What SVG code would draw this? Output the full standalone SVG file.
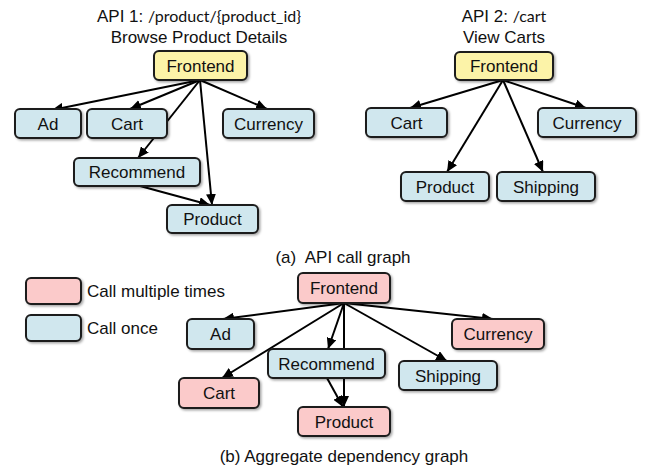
<svg xmlns="http://www.w3.org/2000/svg" width="648" height="467" viewBox="0 0 648 467">
<style>
text{font-family:"Liberation Sans",Arial,sans-serif;font-size:17px;fill:#111;}
.c{text-anchor:middle;}
.code{font-family:Lato,"Open Sans",sans-serif;font-size:16px;}
rect.n{stroke:#1a1a1a;stroke-width:2;filter:url(#sh);}
.y{fill:#FCF3A8;}
.b{fill:#D0E7EE;}
.p{fill:#FBCACA;}
.e line{stroke:#000;stroke-width:2;marker-end:url(#ah);}
</style>
<defs>
<filter id="sh" x="-10%" y="-20%" width="130%" height="160%">
<feDropShadow dx="1.5" dy="1.5" stdDeviation="1" flood-color="#000" flood-opacity="0.35"/>
</filter>
<marker id="ah" markerUnits="userSpaceOnUse" markerWidth="12" markerHeight="10" refX="11" refY="5" orient="auto">
<path d="M0,0 L11,5 L0,10 z" fill="#000"/>
</marker>
</defs>
<rect width="648" height="467" fill="#fff"/>

<!-- titles -->
<text class="c" x="199" y="22">API 1: <tspan class="code">/product/{product_id}</tspan></text>
<text class="c" x="199" y="43">Browse Product Details</text>
<text class="c" x="504" y="22">API 2: <tspan class="code">/cart</tspan></text>
<text class="c" x="504" y="43">View Carts</text>
<text class="c" x="343" y="263" xml:space="preserve">(a)  API call graph</text>
<text class="c" x="344" y="462">(b) Aggregate dependency graph</text>

<!-- connectors -->
<g id="connectors" class="e">
<line x1="200" y1="80" x2="52" y2="110"/>
<line x1="200" y1="80" x2="130" y2="109"/>
<line x1="200" y1="80" x2="138" y2="158"/>
<line x1="200" y1="80" x2="267" y2="109"/>
<line x1="200" y1="80" x2="212" y2="205"/>
<line x1="140" y1="186" x2="210" y2="205"/>

<line x1="503" y1="80" x2="410" y2="108"/>
<line x1="503" y1="80" x2="586" y2="108"/>
<line x1="503" y1="80" x2="447" y2="172"/>
<line x1="503" y1="80" x2="543" y2="172"/>

<line x1="344" y1="303" x2="223" y2="319"/>
<line x1="344" y1="303" x2="222" y2="378"/>
<line x1="344" y1="303" x2="328" y2="349"/>
<line x1="344" y1="303" x2="344" y2="407"/>
<line x1="344" y1="303" x2="493" y2="319"/>
<line x1="344" y1="303" x2="447" y2="361"/>
<line x1="327" y1="378" x2="343" y2="407"/>
</g>

<!-- API 1 nodes -->
<g id="a1-frontend"><rect class="n y" x="154" y="51" width="93" height="29" rx="5"/><text class="c" x="200.5" y="71.5">Frontend</text></g>
<g id="a1-ad"><rect class="n b" x="15" y="109" width="66" height="29" rx="5"/><text class="c" x="48" y="129.5">Ad</text></g>
<g id="a1-cart"><rect class="n b" x="87" y="109" width="80" height="29" rx="5"/><text class="c" x="127" y="129.5">Cart</text></g>
<g id="a1-currency"><rect class="n b" x="223" y="109" width="91" height="29" rx="5"/><text class="c" x="268.5" y="129.5">Currency</text></g>
<g id="a1-recommend"><rect class="n b" x="74" y="158" width="126" height="28" rx="5"/><text class="c" x="137" y="178">Recommend</text></g>
<g id="a1-product"><rect class="n b" x="167" y="205" width="91" height="28" rx="5"/><text class="c" x="212.5" y="225">Product</text></g>

<!-- API 2 nodes -->
<g id="a2-frontend"><rect class="n y" x="455" y="52" width="98" height="28" rx="5"/><text class="c" x="504" y="72">Frontend</text></g>
<g id="a2-cart"><rect class="n b" x="366" y="108" width="81" height="29" rx="5"/><text class="c" x="406.5" y="128.5">Cart</text></g>
<g id="a2-currency"><rect class="n b" x="538" y="108" width="98" height="29" rx="5"/><text class="c" x="587" y="128.5">Currency</text></g>
<g id="a2-product"><rect class="n b" x="401" y="172" width="88" height="29" rx="5"/><text class="c" x="445" y="192.5">Product</text></g>
<g id="a2-shipping"><rect class="n b" x="497" y="172" width="98" height="29" rx="5"/><text class="c" x="546" y="192.5">Shipping</text></g>

<!-- legend -->
<g id="legend-multi"><rect class="n p" x="26" y="278" width="55" height="26" rx="5"/><text x="87" y="297">Call multiple times</text></g>
<g id="legend-once"><rect class="n b" x="26" y="315" width="55" height="26" rx="5"/><text x="87" y="334">Call once</text></g>

<!-- aggregate nodes -->
<g id="b-frontend"><rect class="n p" x="298" y="273" width="92" height="30" rx="5"/><text class="c" x="344" y="294">Frontend</text></g>
<g id="b-ad"><rect class="n b" x="187" y="319" width="67" height="30" rx="5"/><text class="c" x="220.5" y="340">Ad</text></g>
<g id="b-recommend"><rect class="n b" x="268" y="349" width="117" height="29" rx="5"/><text class="c" x="326.5" y="369.5">Recommend</text></g>
<g id="b-cart"><rect class="n p" x="179" y="378" width="80" height="30" rx="5"/><text class="c" x="219" y="399">Cart</text></g>
<g id="b-product"><rect class="n p" x="298" y="407" width="92" height="29" rx="5"/><text class="c" x="344" y="427.5">Product</text></g>
<g id="b-currency"><rect class="n p" x="452" y="319" width="92" height="30" rx="5"/><text class="c" x="498" y="340">Currency</text></g>
<g id="b-shipping"><rect class="n b" x="399" y="361" width="98" height="29" rx="5"/><text class="c" x="448" y="381.5">Shipping</text></g>
</svg>
